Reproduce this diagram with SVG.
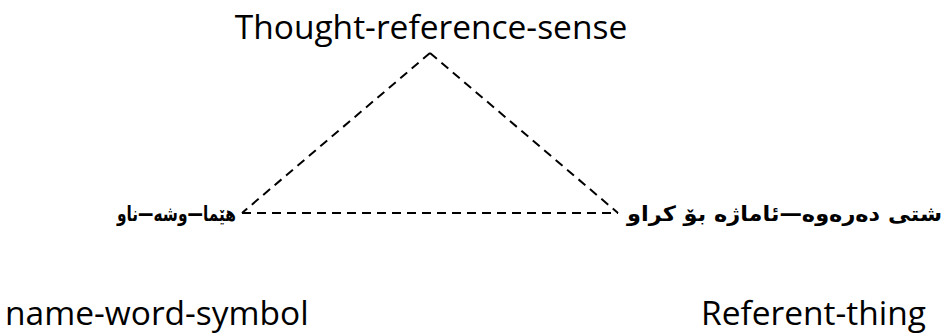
<svg xmlns="http://www.w3.org/2000/svg" width="945" height="334" viewBox="0 0 945 334">
<style>
.lat{font-family:"Open Sans","Liberation Sans",sans-serif;font-size:33.5px;fill:#000}
.kur{font-family:"DejaVu Sans","Noto Sans",sans-serif;font-weight:bold;font-size:21px;fill:#000}
.dash{stroke:#000;stroke-width:2;stroke-dasharray:9 6;fill:none}
</style>
<rect width="945" height="334" fill="#fff"/>
<g id="connectors">
<line class="dash" x1="430" y1="53" x2="242" y2="213"/>
<line class="dash" x1="430" y1="53" x2="618" y2="213"/>
<line class="dash" x1="242" y1="213" x2="618" y2="213"/>
</g>
<g id="thought"><text class="lat" x="431" y="39" text-anchor="middle">Thought-reference-sense</text></g>
<g id="symbol">
<text class="kur" x="236" y="221" text-anchor="end" textLength="119" lengthAdjust="spacingAndGlyphs">هێما—وشە—ناو</text>
<text class="lat" x="5" y="325">name-word-symbol</text>
</g>
<g id="referent">
<text class="kur" x="942" y="221" text-anchor="end" textLength="315" lengthAdjust="spacingAndGlyphs">شتی دەرەوە—ئاماژە بۆ کراو</text>
<text class="lat" x="701" y="325">Referent-thing</text>
</g>
</svg>
